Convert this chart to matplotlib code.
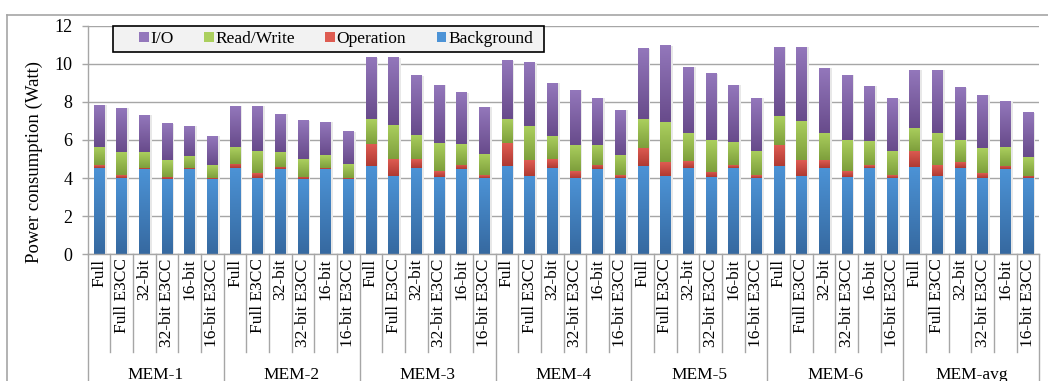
import numpy as np
import matplotlib
matplotlib.use('Agg')
import matplotlib.pyplot as plt
from matplotlib.colors import LinearSegmentedColormap
from matplotlib.patches import Rectangle, Patch
from matplotlib.lines import Line2D

plt.rcParams['font.family'] = ['Liberation Serif', 'DejaVu Serif']

groups = ['MEM-1', 'MEM-2', 'MEM-3', 'MEM-4', 'MEM-5', 'MEM-6', 'MEM-avg']
configs = ['Full', 'Full E3CC', '32-bit', '32-bit E3CC', '16-bit', '16-bit E3CC']

# power per component (Watt), 6 configs per memory trace
background = [4.55, 4.02, 4.48, 3.95, 4.48, 3.95,
              4.55, 4.02, 4.48, 3.95, 4.48, 3.95,
              4.65, 4.13, 4.55, 4.07, 4.48, 4.02,
              4.65, 4.13, 4.55, 4.02, 4.48, 4.02,
              4.65, 4.13, 4.55, 4.07, 4.55, 4.02,
              4.65, 4.13, 4.55, 4.07, 4.55, 4.02,
              4.58, 4.13, 4.55, 4.02, 4.48, 4.02]
operation = [0.14, 0.14, 0.07, 0.12, 0.07, 0.07,
             0.21, 0.25, 0.12, 0.12, 0.07, 0.07,
             1.14, 0.87, 0.45, 0.30, 0.21, 0.14,
             1.19, 0.82, 0.45, 0.35, 0.21, 0.14,
             0.95, 0.73, 0.35, 0.27, 0.14, 0.14,
             1.09, 0.82, 0.40, 0.30, 0.14, 0.14,
             0.84, 0.56, 0.30, 0.25, 0.17, 0.11]
read_write = [0.96, 1.23, 0.82, 0.88, 0.63, 0.68,
              0.89, 1.17, 0.79, 0.93, 0.66, 0.72,
              1.31, 1.79, 1.26, 1.47, 1.10, 1.11,
              1.26, 1.78, 1.21, 1.37, 1.05, 1.05,
              1.50, 2.08, 1.47, 1.66, 1.21, 1.26,
              1.52, 2.05, 1.42, 1.63, 1.26, 1.26,
              1.21, 1.68, 1.15, 1.31, 0.98, 0.98]
io = [2.19, 2.29, 1.94, 1.89, 1.55, 1.51,
      2.13, 2.34, 1.97, 2.00, 1.73, 1.68,
      3.21, 3.52, 3.10, 3.03, 2.68, 2.46,
      3.05, 3.31, 2.78, 2.88, 2.46, 2.36,
      3.68, 4.00, 3.46, 3.47, 2.97, 2.78,
      3.62, 3.88, 3.40, 3.41, 2.88, 2.73,
      3.04, 3.30, 2.73, 2.78, 2.37, 2.31]

# name, values, light (top) colour, dark (bottom) colour
series = [
    ('Background', background, '#4c93d6', '#3669a0'),
    ('Operation', operation, '#de5c52', '#b03a32'),
    ('Read/Write', read_write, '#abcf5e', '#7e9f3c'),
    ('I/O', io, '#9377bb', '#684b8b'),
]

W, H = 1048, 381
fig = plt.figure(figsize=(W / 100, H / 100), dpi=100)
fig.patch.set_facecolor('white')
ax = fig.add_axes([87.7 / W, 1 - 254.3 / H, (1039.3 - 87.7) / W, 228.6 / H])

x = np.arange(len(background))
width = 0.46
grid_c = '#a6a6a6'

totals = np.sum([s[1] for s in series], axis=0)
# soft drop shadow to the right of each column
ax.bar(x + 0.1, totals, width, color='#e8e8e8', zorder=1.5)

bottom = np.zeros(len(x))
handles = {}
for name, vals, light, dark in series:
    bars = ax.bar(x, vals, width, bottom=bottom, color=dark, zorder=2)
    cmap = LinearSegmentedColormap.from_list(name, [dark, light])
    grad = np.linspace(1, 0, 64).reshape(-1, 1)
    for p in bars:
        x0, y0 = p.get_x(), p.get_y()
        ax.imshow(grad, cmap=cmap, vmin=0, vmax=1, aspect='auto',
                  extent=(x0, x0 + p.get_width(), y0, y0 + p.get_height()),
                  interpolation='bilinear', zorder=2.5)
    handles[name] = Patch(facecolor=light, edgecolor='none')
    bottom += np.array(vals)

ax.set_xlim(-0.5, len(x) - 0.5)
ax.set_ylim(0, 12)
ax.set_yticks(np.arange(0, 13, 2))
ax.yaxis.grid(True, color=grid_c, lw=1.0)
ax.set_axisbelow(True)
ax.tick_params(axis='y', length=4, width=1.0, color=grid_c, pad=7, labelsize=13)
ax.tick_params(axis='x', length=0, pad=3, labelsize=12.5)
ax.set_xticks(x)
ax.set_xticklabels(configs * len(groups), rotation=90)
for side in ['top', 'right']:
    ax.spines[side].set_visible(False)
for side in ['left', 'bottom']:
    ax.spines[side].set_color(grid_c)
    ax.spines[side].set_linewidth(1.0)

ax.set_ylabel('Power consumption (Watt)', fontsize=13.5)
ax.yaxis.set_label_coords(-0.047, 0.404)

# category dividers: short between configs, long between memory traces
trans = ax.get_xaxis_transform()
for i in range(len(x) + 1):
    b = i - 0.5
    low = -0.6 if i % len(configs) == 0 else -0.427
    ax.plot([b, b], [0, low], transform=trans, color=grid_c, lw=1.0,
            clip_on=False, zorder=1)
for g, name in enumerate(groups):
    ax.text(g * len(configs) + (len(configs) - 1) / 2, -0.53, name,
            transform=trans, ha='center', va='center', fontsize=12.5)

# legend box
ax.add_patch(Rectangle((0.0261, 0.8836), 0.4534, 0.1164, transform=ax.transAxes,
                       facecolor='#f2f2f2', edgecolor='black', lw=1.2,
                       clip_on=False, zorder=4.5))
order = ['I/O', 'Read/Write', 'Operation', 'Background']
ax.legend([handles[n] for n in order], order, ncol=4, frameon=False,
          loc='center left', bbox_to_anchor=(0.054, 0.942), borderpad=0,
          borderaxespad=0, handlelength=0.55, handleheight=0.55,
          handletextpad=0.1, columnspacing=1.75, fontsize=12.5)

# outer chart frame
fig.add_artist(Line2D([7 / W, 7 / W], [0, 1 - 15 / H], color=grid_c, lw=1.2,
                      transform=fig.transFigure))
fig.add_artist(Line2D([7 / W, 1], [1 - 15 / H, 1 - 15 / H], color=grid_c, lw=1.2,
                      transform=fig.transFigure))

fig.savefig('out.png', dpi=100)
